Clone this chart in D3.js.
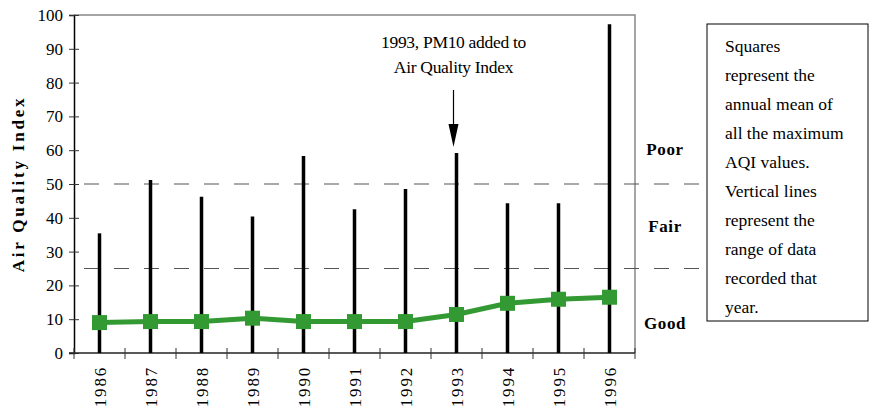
<!DOCTYPE html>
<html>
<head>
<meta charset="utf-8">
<script src="https://cdn.jsdelivr.net/npm/d3@7"></script>
<style>
  body { margin: 0; background: #fff; }
</style>
</head>
<body>
<svg id="chart" width="874" height="415"></svg>
<script>
// data
let years = ['1986', '1987', '1988', '1989', '1990', '1991', '1992', '1993', '1994', '1995', '1996']
let maxAqi = [35.4, 51.2, 46.2, 40.4, 58.3, 42.5, 48.5, 59.2, 44.3, 44.3, 97.3]
let minAqi = [0, 0, 0, 0, 0, 0, 0, 0, 0, 0, 0]
let meanAqi = [9.0, 9.3, 9.3, 10.3, 9.3, 9.3, 9.3, 11.4, 14.7, 15.9, 16.5]
let yTicks = [0, 10, 20, 30, 40, 50, 60, 70, 80, 90, 100]
let bands = [{ label: 'Poor', at: 60.5 }, { label: 'Fair', at: 37.5 }, { label: 'Good', at: 9 }]
let cutoffs = [25, 50]
let noteLines = ['Squares', 'represent the', 'annual mean of', 'all the maximum', 'AQI values.',
  'Vertical lines', 'represent the', 'range of data', 'recorded that', 'year.']

let serif = 'Liberation Serif, Times New Roman, serif'
let svg = d3.select('#chart').attr('font-family', serif)
let plotLeft = 74, plotRight = 635, plotTop = 15, plotBottom = 353

let x = d3.scaleBand().domain(years).range([plotLeft, plotRight])
let y = d3.scaleLinear().domain([0, 100]).range([plotBottom, plotTop])
let cx = function (d) { return x(d) + x.bandwidth() / 2 }

// gray frame on top and right
svg.append('path')
  .attr('d', 'M' + plotLeft + ',' + y(100) + 'H' + plotRight + 'V' + plotBottom)
  .attr('fill', 'none')
  .attr('stroke', '#888')
  .attr('stroke-width', 1.5)

// dashed cut lines
svg.selectAll('.cut')
  .data(cutoffs)
  .enter().append('line')
  .attr('class', 'cut')
  .attr('x1', plotLeft).attr('x2', 700)
  .attr('y1', function (d) { return y(d) }).attr('y2', function (d) { return y(d) })
  .attr('stroke', '#555')
  .attr('stroke-width', 1.2)
  .attr('stroke-dasharray', '15,15')
  .attr('stroke-dashoffset', -10)

// y axis
let yAxis = svg.append('g')
  .attr('transform', 'translate(' + plotLeft + ',0)')
  .call(d3.axisLeft(y).tickValues(yTicks).tickSize(5).tickPadding(6))
yAxis.attr('font-family', serif)
yAxis.select('.domain').attr('stroke', '#000').attr('stroke-width', 1.5)
yAxis.selectAll('.tick line').attr('x2', 5).attr('x1', -5).attr('stroke', '#333')
yAxis.selectAll('text').attr('font-size', 17).attr('font-family', serif).attr('fill', '#000')

// x axis, ticks at band edges
let edges = years.map(function (d) { return x(d) }).concat([plotRight])
svg.append('line')
  .attr('x1', plotLeft - 5).attr('x2', plotRight)
  .attr('y1', plotBottom).attr('y2', plotBottom)
  .attr('stroke', '#222').attr('stroke-width', 1.5)
svg.selectAll('.xtick')
  .data(edges)
  .enter().append('line')
  .attr('class', 'xtick')
  .attr('x1', function (d) { return d }).attr('x2', function (d) { return d })
  .attr('y1', plotBottom - 5).attr('y2', plotBottom + 6)
  .attr('stroke', '#333')

svg.selectAll('.xlab')
  .data(years)
  .enter().append('text')
  .attr('class', 'xlab')
  .attr('transform', function (d) { return 'translate(' + (cx(d) + 6) + ',' + (plotBottom + 13) + ') rotate(-90)' })
  .attr('text-anchor', 'end')
  .attr('font-family', serif)
  .attr('font-size', 17)
  .attr('letter-spacing', 1.8)
  .text(function (d) { return d })

// y title
svg.append('text')
  .attr('transform', 'translate(24,' + y(50) + ') rotate(-90)')
  .attr('text-anchor', 'middle')
  .attr('font-family', serif)
  .attr('font-size', 17)
  .attr('font-weight', 'bold')
  .attr('letter-spacing', 2.8)
  .text('Air Quality Index')

// range lines
svg.selectAll('.range')
  .data(years)
  .enter().append('line')
  .attr('class', 'range')
  .attr('x1', cx).attr('x2', cx)
  .attr('y1', function (d, i) { return y(minAqi[i]) })
  .attr('y2', function (d, i) { return y(maxAqi[i]) })
  .attr('stroke', '#000')
  .attr('stroke-width', 3.5)

// mean line + squares
let line = d3.line()
  .x(function (d) { return cx(d) })
  .y(function (d, i) { return y(meanAqi[i]) })
svg.append('path')
  .attr('d', line(years))
  .attr('fill', 'none')
  .attr('stroke', '#339933')
  .attr('stroke-width', 5)
svg.selectAll('.sq')
  .data(years)
  .enter().append('rect')
  .attr('class', 'sq')
  .attr('x', function (d) { return cx(d) - 7.5 })
  .attr('y', function (d, i) { return y(meanAqi[i]) - 7.5 })
  .attr('width', 15).attr('height', 15)
  .attr('fill', '#339933')

// band labels
svg.selectAll('.band')
  .data(bands)
  .enter().append('text')
  .attr('class', 'band')
  .attr('x', 665)
  .attr('y', function (d) { return y(d.at) + 6 })
  .attr('text-anchor', 'middle')
  .attr('font-family', serif)
  .attr('font-size', 17)
  .attr('font-weight', 'bold')
  .attr('letter-spacing', 0.6)
  .text(function (d) { return d.label })

// annotation
let ax = cx('1993') - 3
svg.append('text')
  .attr('x', ax).attr('y', 48)
  .attr('text-anchor', 'middle')
  .attr('font-family', serif)
  .attr('font-size', 17.5)
  .attr('letter-spacing', -0.3)
  .text('1993, PM10 added to')
svg.append('text')
  .attr('x', ax).attr('y', 73)
  .attr('text-anchor', 'middle')
  .attr('font-family', serif)
  .attr('font-size', 17.5)
  .attr('letter-spacing', -0.3)
  .text('Air Quality Index')
svg.append('line')
  .attr('x1', ax).attr('x2', ax)
  .attr('y1', 90).attr('y2', 128)
  .attr('stroke', '#000').attr('stroke-width', 1.2)
svg.append('path')
  .attr('d', 'M' + (ax - 5) + ',124 L' + (ax + 5) + ',124 L' + ax + ',147 Z')
  .attr('fill', '#000')

// note box
svg.append('rect')
  .attr('x', 707).attr('y', 24)
  .attr('width', 161).attr('height', 297)
  .attr('fill', '#fff')
  .attr('stroke', '#000').attr('stroke-width', 1)
svg.selectAll('.note')
  .data(noteLines)
  .enter().append('text')
  .attr('class', 'note')
  .attr('x', 725)
  .attr('y', function (d, i) { return 52 + i * 29 })
  .attr('font-family', serif)
  .attr('font-size', 17.5)
  .text(function (d) { return d })
</script>
</body>
</html>
